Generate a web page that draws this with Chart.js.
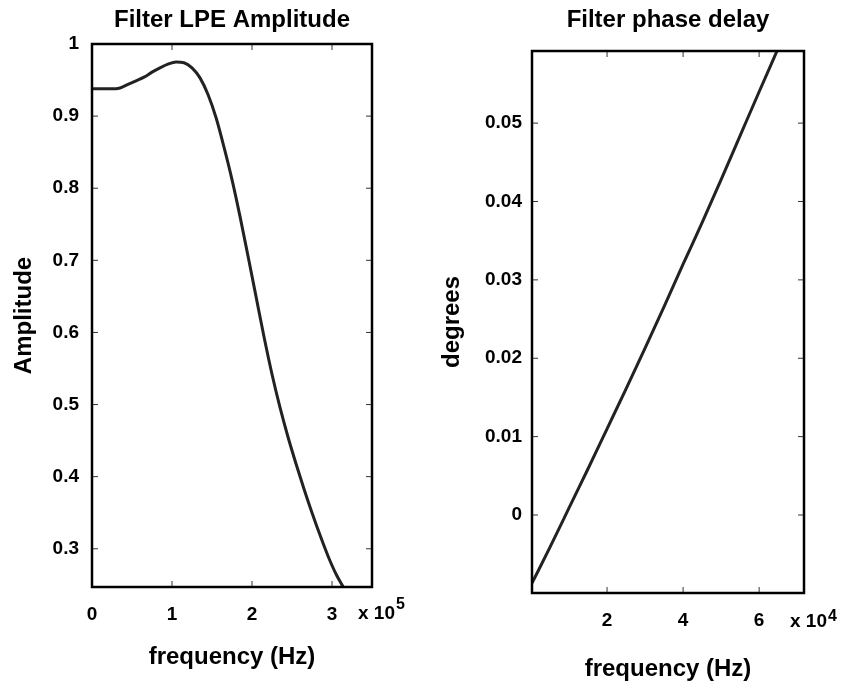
<!DOCTYPE html>
<html>
<head>
<meta charset="utf-8">
<script src="https://cdn.jsdelivr.net/npm/chart.js@4"></script>
<style>
    body { margin: 0; background: #fff; }
    #leftWrap { position: absolute; left: 0; top: 0; width: 420px; height: 684px; }
    #rightWrap { position: absolute; left: 420px; top: 0; width: 421px; height: 684px; }
</style>
</head>
<body>
<div id="leftWrap"><canvas id="ampChart" width="420" height="684"></canvas></div>
<div id="rightWrap"><canvas id="phaseChart" width="421" height="684"></canvas></div>
<script>
// amplitude response
const ampFreq = [0, 10000, 20000, 30000, 35000, 45000, 55000, 65000, 75000, 85000, 95000,
    105000, 115000, 125000, 135000, 145000, 155000, 165000, 175000, 185000, 195000,
    205000, 215000, 225000, 235000, 245000, 255000, 265000, 275000, 285000, 295000,
    305000, 314000];
const ampValues = [0.938, 0.938, 0.938, 0.938, 0.939, 0.944, 0.949, 0.954, 0.961, 0.967, 0.972,
    0.975, 0.974, 0.967, 0.953, 0.930, 0.898, 0.857, 0.812, 0.761, 0.706,
    0.650, 0.594, 0.542, 0.496, 0.455, 0.418, 0.383, 0.350, 0.319, 0.290,
    0.265, 0.247];

// phase delay
const phaseFreq = [260, 5000, 10000, 15000, 20000, 25000, 30000, 35000, 40000, 45000,
    50000, 55000, 60000, 64700];
const phaseValues = [-0.0087, -0.0041, 0.0009, 0.0059, 0.0110, 0.0161, 0.0213, 0.0266,
    0.0320, 0.0373, 0.0428, 0.0484, 0.0540, 0.0592];

// tick labels
const ampXTicks = [0, 100000, 200000, 300000];
const ampYTicks = [0.3, 0.4, 0.5, 0.6, 0.7, 0.8, 0.9, 1];
const phaseXTicks = [20000, 40000, 60000];
const phaseYTicks = [0, 0.01, 0.02, 0.03, 0.04, 0.05];

const FONT = '"Liberation Sans", Arial, sans-serif';
Chart.defaults.color = '#000';
Chart.defaults.font.family = FONT;

// box around the plot area with inward tick marks, plus the "x 10^n" note
const framePlugin = {
    id: 'frame',
    afterDatasetsDraw(chart, args, opts) {
        const { ctx, chartArea: a, scales } = chart;
        ctx.save();
        ctx.strokeStyle = '#333';
        ctx.lineWidth = 1;
        ctx.beginPath();
        scales.x.ticks.forEach(t => {
            const px = scales.x.getPixelForValue(t.value);
            if (px < a.left + 2 || px > a.right - 2) return;
            ctx.moveTo(px, a.bottom); ctx.lineTo(px, a.bottom - 6);
            ctx.moveTo(px, a.top); ctx.lineTo(px, a.top + 6);
        });
        scales.y.ticks.forEach(t => {
            const py = scales.y.getPixelForValue(t.value);
            if (py < a.top + 2 || py > a.bottom - 2) return;
            ctx.moveTo(a.left, py); ctx.lineTo(a.left + 6, py);
            ctx.moveTo(a.right, py); ctx.lineTo(a.right - 6, py);
        });
        ctx.stroke();

        ctx.strokeStyle = '#000';
        ctx.lineWidth = 2.5;
        ctx.strokeRect(a.left, a.top, a.right - a.left, a.bottom - a.top);

        ctx.fillStyle = '#000';
        ctx.textBaseline = 'middle';
        ctx.textAlign = 'left';
        ctx.font = 'bold 19px ' + FONT;
        const x0 = a.right - 14;
        const y0 = a.bottom + opts.baseOffset;
        ctx.fillText('x 10', x0, y0);
        const w = ctx.measureText('x 10').width;
        ctx.font = 'bold 16px ' + FONT;
        ctx.fillText(opts.exponent, x0 + w + 1, y0 - opts.expRaise);
        ctx.restore();
    }
};

function makeChart(canvasId, cfg) {
    const ctx = document.getElementById(canvasId).getContext('2d');
    return new Chart(ctx, {
        type: 'line',
        data: {
            datasets: [{
                data: cfg.xs.map((x, i) => ({ x: x, y: cfg.ys[i] })),
                borderColor: '#222',
                borderWidth: 3,
                pointRadius: 0,
                cubicInterpolationMode: 'monotone',
                fill: false
            }]
        },
        options: {
            responsive: false,
            animation: false,
            layout: { padding: { left: 0, right: cfg.padRight, top: 0, bottom: 0 } },
            plugins: {
                legend: { display: false },
                tooltip: { enabled: false },
                title: {
                    display: true,
                    text: cfg.title,
                    fullSize: false,
                    font: { size: 24, weight: 'bold' },
                    padding: { top: 5.6, bottom: cfg.titleGap }
                },
                frame: { exponent: cfg.exponent, baseOffset: cfg.expBase, expRaise: cfg.expRaise }
            },
            scales: {
                x: {
                    type: 'linear',
                    min: cfg.xMin,
                    max: cfg.xMax,
                    grid: { display: false, drawTicks: false },
                    border: { display: false },
                    afterBuildTicks: s => { s.ticks = cfg.xTicks.map(v => ({ value: v })); },
                    afterFit: s => { s.height = cfg.xAxisHeight; },
                    ticks: {
                        padding: 16,
                        maxRotation: 0,
                        autoSkip: false,
                        font: { size: 19, weight: 'bold' },
                        callback: v => String(Math.round(v / cfg.xScale))
                    },
                    title: {
                        display: true,
                        text: 'frequency (Hz)',
                        font: { size: 24, weight: 'bold' },
                        padding: { top: 0, bottom: cfg.xTitlePad }
                    }
                },
                y: {
                    type: 'linear',
                    min: cfg.yMin,
                    max: cfg.yMax,
                    grid: { display: false, drawTicks: false },
                    border: { display: false },
                    afterBuildTicks: s => { s.ticks = cfg.yTicks.map(v => ({ value: v })); },
                    afterFit: s => { s.width = cfg.yAxisWidth; },
                    ticks: {
                        padding: cfg.yTickPad,
                        autoSkip: false,
                        font: { size: 19, weight: 'bold' },
                        callback: v => String(+v.toFixed(3))
                    },
                    title: {
                        display: true,
                        text: cfg.yTitle,
                        font: { size: 24, weight: 'bold' },
                        padding: { top: cfg.yTitlePad, bottom: 0 }
                    }
                }
            }
        },
        plugins: [framePlugin]
    });
}

makeChart('ampChart', {
    xs: ampFreq, ys: ampValues,
    title: 'Filter LPE Amplitude', yTitle: 'Amplitude',
    xMin: 0, xMax: 350000, yMin: 0.247, yMax: 1,
    xTicks: ampXTicks, yTicks: ampYTicks, xScale: 100000,
    padRight: 48, titleGap: 9.6, xAxisHeight: 97, yAxisWidth: 92,
    yTickPad: 13, xTitlePad: 12.6, yTitlePad: 10,
    exponent: '5', expBase: 26.5, expRaise: 9
});

makeChart('phaseChart', {
    xs: phaseFreq, ys: phaseValues,
    title: 'Filter phase delay', yTitle: 'degrees',
    xMin: 260, xMax: 71800, yMin: -0.00995, yMax: 0.0592,
    xTicks: phaseXTicks, yTicks: phaseYTicks, xScale: 10000,
    padRight: 37, titleGap: 16.6, xAxisHeight: 91, yAxisWidth: 112,
    yTickPad: 10, xTitlePad: 0, yTitlePad: 17.6,
    exponent: '4', expBase: 28.5, expRaise: 5
});
</script>
</body>
</html>
